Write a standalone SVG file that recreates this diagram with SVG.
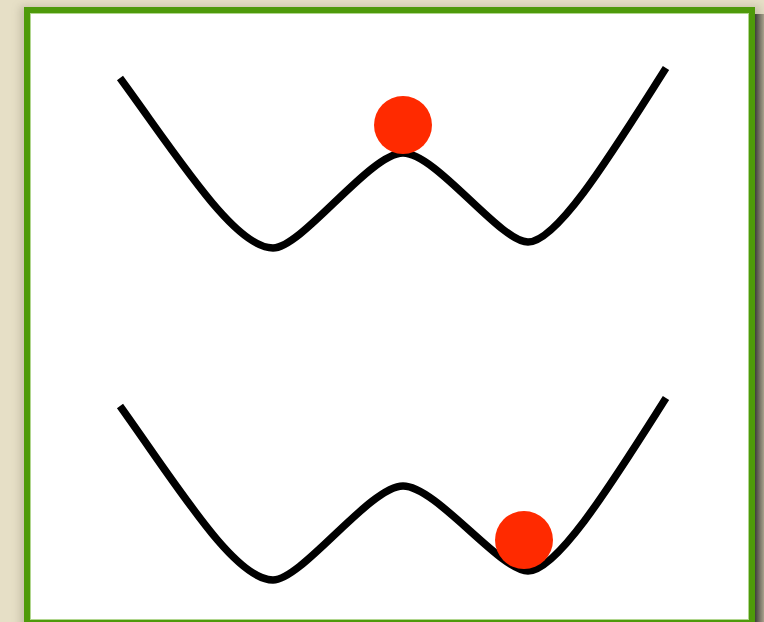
<svg xmlns="http://www.w3.org/2000/svg" width="764" height="622" viewBox="0 0 764 622">
  <defs>
    <filter id="sh" x="-10%" y="-10%" width="120%" height="120%">
      <feGaussianBlur stdDeviation="4"/>
    </filter>
    <linearGradient id="rs" x1="0" y1="0" x2="1" y2="0">
      <stop offset="0" stop-color="#3e3e3a"/>
      <stop offset="1" stop-color="#a9a28c"/>
    </linearGradient>
    <style>
      .well { fill: none; stroke: #000; stroke-width: 7.5; stroke-linejoin: round; }
      .ball { fill: #ff2a00; }
    </style>
  </defs>
  <rect x="0" y="0" width="764" height="622" fill="#e6dfc6"/>
  <rect x="20" y="6" width="740" height="630" fill="#8a8470" opacity="0.35" filter="url(#sh)"/>
  <rect x="755" y="14" width="9" height="608" fill="url(#rs)"/>
  <g id="frame">
    <rect x="27" y="10" width="725" height="613" fill="#ffffff" stroke="#4e9a0a" stroke-width="6"/>
    <rect x="30.5" y="13.5" width="718" height="606" fill="none" stroke="#7dbb45" stroke-width="1" opacity="0.6"/>
  </g>
  <g id="top-state">
    <path class="well" d="M120,78 C180,160 235,248 273,248 C302,248 370,153 403,153 C436,153 500,242 528,242 C558,242 615,148 666,68"/>
    <circle class="ball" cx="403" cy="125" r="29"/>
  </g>
  <g id="bottom-state">
    <path class="well" d="M120,406 C180,490 235,580 273,580 C302,580 370,486 403,486 C436,486 500,571 528,571 C558,571 615,478 666,398"/>
    <circle class="ball" cx="524" cy="540" r="29"/>
  </g>
</svg>
